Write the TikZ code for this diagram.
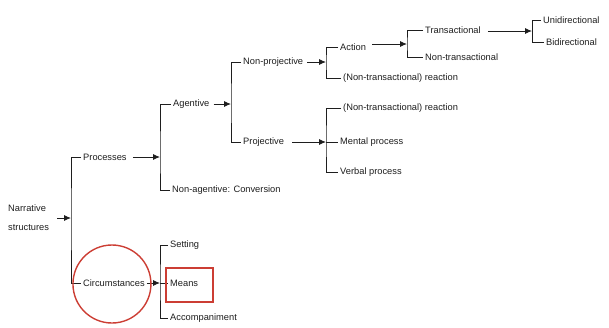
\documentclass[tikz,border=0pt]{standalone}
\usepackage{fontspec}
\setmainfont{Liberation Sans}
\usetikzlibrary{arrows.meta}
\definecolor{ink}{RGB}{30,30,30}
\definecolor{ring}{RGB}{204,62,52}
\tikzstyle{lbl} = [anchor=west, inner sep=2pt, font={\fontsize{9.3}{11}\selectfont}, text=ink]
\tikzstyle{arr} = [draw=ink, line width=0.9pt, -{Latex[length=7pt,width=6pt]}]
\tikzstyle{brk} = [draw=ink, line width=1pt]
\tikzstyle{hilite} = [draw=ring, line width=1.4pt]

\begin{document}
\begin{tikzpicture}[x=1pt,y=-1pt]
  \useasboundingbox (0,0) rectangle (609,327);
  \node[lbl,align=left](narr) at (6,218){Narrative\\[8pt]structures};
  \node[lbl](proc) at (81,157){Processes};
  \node[lbl](circ) at (81,283){Circumstances};
  \node[lbl](agent) at (171,104){Agentive};
  \node[lbl](nonag) at (170,190){Non-agentive: Conversion};
  \node[lbl](nproj) at (241,62){Non-projective};
  \node[lbl](proj) at (241,142){Projective};
  \node[lbl](action) at (338,47){Action};
  \node[lbl](nreac1) at (341,78){(Non-transactional) reaction};
  \node[lbl](trans) at (423,30){Transactional};
  \node[lbl](ntrans) at (423,57){Non-transactional};
  \node[lbl](uni) at (541,20){Unidirectional};
  \node[lbl](bi) at (544,42){Bidirectional};
  \node[lbl](nreac2) at (341,108){(Non-transactional) reaction};
  \node[lbl](mental) at (338,142){Mental process};
  \node[lbl](verbal) at (338,172){Verbal process};
  \node[lbl](setting) at (168,245){Setting};
  \node[lbl](means) at (168,283){Means};
  \node[lbl](accomp) at (168,318){Accompaniment};
  % bracket spines
  \coordinate (b1) at (71,218);
  \coordinate (b2) at (160,157);
  \coordinate (b3) at (231,104);
  \coordinate (b4) at (326,62);
  \coordinate (b5) at (407,44);
  \coordinate (b6) at (532,31);
  \coordinate (b7) at (326,142);
  \coordinate (b8) at (160,283);
  \draw[brk] (proc.west) -| (b1) |- (circ.west);
  \draw[brk] (agent.west) -| (b2) |- (nonag.west);
  \draw[brk] (nproj.west) -| (b3) |- (proj.west);
  \draw[brk] (action.west) -| (b4) |- (nreac1.west);
  \draw[brk] (trans.west) -| (b5) |- (ntrans.west);
  \draw[brk] (uni.west) -| (b6) |- (bi.west);
  \draw[brk] (nreac2.west) -| (b7) |- (verbal.west);
  \draw[brk] (b7) -- (mental.west);
  \draw[brk] (setting.west) -| (b8) |- (accomp.west);
  \draw[brk] (b8) -- (means.west);
  \draw[arr] ([xshift=6pt]narr.east |- b1) -- (b1);
  \draw[arr] ([xshift=4pt]proc.east) -- (b2);
  \draw[arr] ([xshift=2pt]agent.east) -- (b3);
  \draw[arr] ([xshift=2pt]nproj.east) -- (b4);
  \draw[arr] ([xshift=4pt]action.east |- b5) -- (b5);
  \draw[arr] ([xshift=5pt]trans.east |- b6) -- (b6);
  \draw[arr] ([xshift=6pt]proj.east) -- (b7);
  \draw[arr] (circ.east) -- (b8);
  % highlights
  \draw[hilite] ([xshift=-2pt,yshift=-1pt]circ.center) circle[radius=39pt];
  \draw[hilite] (166,268) rectangle (213,302);
\end{tikzpicture}
\end{document}
